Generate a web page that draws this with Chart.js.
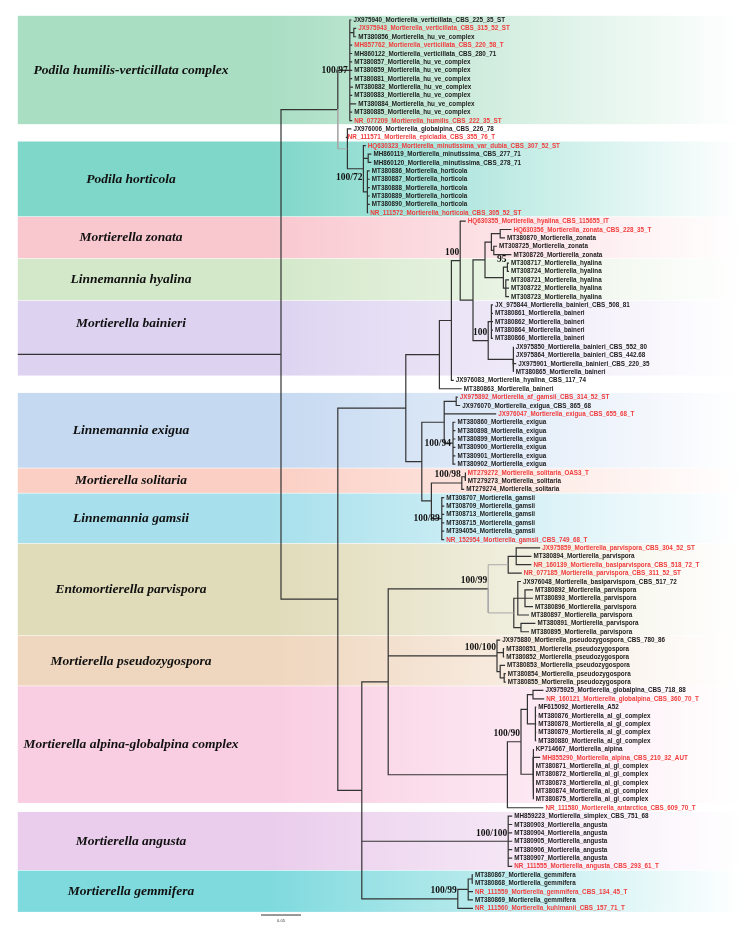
<!DOCTYPE html>
<html>
<head>
<meta charset="utf-8">
<script src="https://cdn.jsdelivr.net/npm/chart.js@4.4.1/dist/chart.umd.min.js"></script>
<style>
  html, body { margin: 0; padding: 0; background: #fff; }
  canvas { display: block; }
</style>
</head>
<body>
<canvas id="tree" width="742" height="927"></canvas>
<script>
// ── Data ─────────────────────────────────────────────────
const taxa = [
    'JX975940_Mortierella_verticillata_CBS_225_35_ST',
    'JX975943_Mortierella_verticillata_CBS_315_52_ST',
    'MT380856_Mortierella_hu_ve_complex',
    'MH857762_Mortierella_verticillata_CBS_220_58_T',
    'MH860122_Mortierella_verticillata_CBS_280_71',
    'MT380857_Mortierella_hu_ve_complex',
    'MT380859_Mortierella_hu_ve_complex',
    'MT380881_Mortierella_hu_ve_complex',
    'MT380882_Mortierella_hu_ve_complex',
    'MT380883_Mortierella_hu_ve_complex',
    'MT380884_Mortierella_hu_ve_complex',
    'MT380885_Mortierella_hu_ve_complex',
    'NR_077209_Mortierella_humilis_CBS_222_35_ST',
    'JX976006_Mortierella_globalpina_CBS_226_78',
    'NR_111571_Mortierella_epicladia_CBS_355_76_T',
    'HQ630323_Mortierella_minutissima_var_dubia_CBS_307_52_ST',
    'MH860119_Mortierella_minutissima_CBS_277_71',
    'MH860120_Mortierella_minutissima_CBS_278_71',
    'MT380886_Mortierella_horticola',
    'MT380887_Mortierella_horticola',
    'MT380888_Mortierella_horticola',
    'MT380889_Mortierella_horticola',
    'MT380890_Mortierella_horticola',
    'NR_111572_Mortierella_horticola_CBS_305_52_ST',
    'HQ630355_Mortierella_hyalina_CBS_115655_IT',
    'HQ630356_Mortierella_zonata_CBS_228_35_T',
    'MT380870_Mortierella_zonata',
    'MT308725_Mortierella_zonata',
    'MT308726_Mortierella_zonata',
    'MT308717_Mortierella_hyalina',
    'MT308724_Mortierella_hyalina',
    'MT308721_Mortierella_hyalina',
    'MT308722_Mortierella_hyalina',
    'MT308723_Mortierella_hyalina',
    'JX_975844_Mortierella_bainieri_CBS_508_81',
    'MT380861_Mortierella_baineri',
    'MT380862_Mortierella_baineri',
    'MT380864_Mortierella_baineri',
    'MT380866_Mortierella_baineri',
    'JX975850_Mortierella_bainieri_CBS_552_80',
    'JX975864_Mortierella_bainieri_CBS_442.68',
    'JX975901_Mortierella_bainieri_CBS_220_35',
    'MT380865_Mortierella_baineri',
    'JX976083_Mortierella_hyalina_CBS_117_74',
    'MT380863_Mortierella_baineri',
    'JX975892_Mortierella_af_gamsii_CBS_314_52_ST',
    'JX976070_Mortierella_exigua_CBS_865_68',
    'JX976047_Mortierella_exigua_CBS_655_68_T',
    'MT380860_Mortierella_exigua',
    'MT380898_Mortierella_exigua',
    'MT380899_Mortierella_exigua',
    'MT380900_Mortierella_exigua',
    'MT380901_Mortierella_exigua',
    'MT380902_Mortierella_exigua',
    'MT279272_Mortierella_solitaria_OAS3_T',
    'MT279273_Mortierella_solitaria',
    'MT279274_Mortierella_solitaria',
    'MT308707_Mortierella_gamsii',
    'MT308709_Mortierella_gamsii',
    'MT308713_Mortierella_gamsii',
    'MT308715_Mortierella_gamsii',
    'MT394054_Mortierella_gamsii',
    'NR_152954_Mortierella_gamsii_CBS_749_68_T',
    'JX975859_Mortierella_parvispora_CBS_304_52_ST',
    'MT380894_Mortierella_parvispora',
    'NR_160139_Mortierella_basiparvispora_CBS_518_72_T',
    'NR_077185_Mortierella_parvispora_CBS_311_52_ST',
    'JX976048_Mortierella_basiparvispora_CBS_517_72',
    'MT380892_Mortierella_parvispora',
    'MT380893_Mortierella_parvispora',
    'MT380896_Mortierella_parvispora',
    'MT380897_Mortierella_parvispora',
    'MT380891_Mortierella_parvispora',
    'MT380895_Mortierella_parvispora',
    'JX975880_Mortierella_pseudozygospora_CBS_780_86',
    'MT380851_Mortierella_pseudozygospora',
    'MT380852_Mortierella_pseudozygospora',
    'MT380853_Mortierella_pseudozygospora',
    'MT380854_Mortierella_pseudozygospora',
    'MT380855_Mortierella_pseudozygospora',
    'JX975925_Mortierella_globalpina_CBS_718_88',
    'NR_160121_Mortierella_globalpina_CBS_360_70_T',
    'MF615092_Mortierella_A52',
    'MT380876_Mortierella_al_gl_complex',
    'MT380878_Mortierella_al_gl_complex',
    'MT380879_Mortierella_al_gl_complex',
    'MT380880_Mortierella_al_gl_complex',
    'KP714667_Mortierella_alpina',
    'MH855290_Mortierella_alpina_CBS_210_32_AUT',
    'MT380871_Mortierella_al_gl_complex',
    'MT380872_Mortierella_al_gl_complex',
    'MT380873_Mortierella_al_gl_complex',
    'MT380874_Mortierella_al_gl_complex',
    'MT380875_Mortierella_al_gl_complex',
    'NR_111580_Mortierella_antarctica_CBS_609_70_T',
    'MH859223_Mortierella_simplex_CBS_751_68',
    'MT380903_Mortierella_angusta',
    'MT380904_Mortierella_angusta',
    'MT380905_Mortierella_angusta',
    'MT380906_Mortierella_angusta',
    'MT380907_Mortierella_angusta',
    'NR_111555_Mortierella_angusta_CBS_293_61_T',
    'MT380867_Mortierella_gemmifera',
    'MT380868_Mortierella_gemmifera',
    'NR_111559_Mortierella_gemmifera_CBS_134_45_T',
    'MT380869_Mortierella_gemmifera',
    'NR_111560_Mortierella_kuhlmanii_CBS_157_71_T',
];

// taxa printed in red (type material)
const typeStrains = [1, 3, 12, 14, 15, 23, 24, 25, 45, 47, 54, 62, 63, 65, 66, 81, 88, 94, 101, 104, 106];

// root-to-tip distance of every taxon (substitutions/site)
const tipDepth = [
    0.088, 0.094, 0.094, 0.089, 0.089, 0.089, 0.089, 0.089, 0.090, 0.089, 0.094, 0.089, 0.089,
    0.088, 0.081,
    0.106, 0.113, 0.113, 0.111, 0.111, 0.111, 0.111, 0.111, 0.109,
    0.231, 0.288, 0.280, 0.270, 0.288,
    0.285, 0.285, 0.285, 0.285, 0.285,
    0.265, 0.265, 0.265, 0.265, 0.265, 0.291, 0.291, 0.294, 0.291,
    0.216, 0.226,
    0.221, 0.224, 0.269, 0.218, 0.218, 0.218, 0.218, 0.218, 0.218,
    0.231, 0.231, 0.229,
    0.204, 0.204, 0.204, 0.204, 0.204, 0.204,
    0.324, 0.313, 0.313, 0.301, 0.300, 0.315, 0.315, 0.315, 0.310, 0.318, 0.310,
    0.274, 0.279, 0.279, 0.280, 0.281, 0.281,
    0.328, 0.329, 0.319, 0.319, 0.319, 0.319, 0.319,
    0.316, 0.324, 0.316, 0.316, 0.316, 0.316, 0.316,
    0.328,
    0.289, 0.289, 0.289, 0.289, 0.289, 0.289, 0.289,
    0.240, 0.240, 0.240, 0.240, 0.240,
];

const rootBranch = 0.329;
const scaleBarLength = 0.05;

// clades shaded behind the tree
const cladeNames = [
    'Podila humilis-verticillata complex', 'Podila horticola', 'Mortierella zonata',
    'Linnemannia hyalina', 'Mortierella bainieri', 'Linnemannia exigua',
    'Mortierella solitaria', 'Linnemannia gamsii', 'Entomortierella parvispora',
    'Mortierella pseudozygospora', 'Mortierella alpina-globalpina complex',
    'Mortierella angusta', 'Mortierella gemmifera',
];
const cladeFirst = [0, 15, 24, 29, 34, 45, 54, 57, 63, 74, 80, 95, 102];
const cladeLast = [12, 23, 28, 33, 42, 53, 56, 62, 73, 79, 93, 101, 106];

// internal nodes: d = depth, c = children (taxon index or node), bs = support
const tree = { d: 0, c: [
    { d: 0.071, c: [
        { d: 0.086, bs: '100/97', at: 'mid', c: [0, { d: 0.091, c: [1, 2] }, 3, 4, 5, 6, 7, 8, 9, 10, 11, 12] },
        { d: 0.083, weak: true, c: [13, 14,
            { d: 0.103, bs: '100/72', at: 'below', c: [15, { d: 0.109, c: [16, 17] }, { d: 0.108, c: [18, 19, 20, 21, 22, 23] }] },
        ] },
    ] },
    { d: 0.071, c: [
        { d: 0.156, c: [
            { d: 0.198, c: [
                { d: 0.213, c: [
                    { d: 0.224, bs: '100', c: [24,
                        { d: 0.240, c: [
                            { d: 0.255, c: [
                                { d: 0.263, c: [{ d: 0.274, c: [25, 26] }, { d: 0.266, c: [27, 28] }] },
                                { d: 0.278, c: [{ d: 0.283, bs: '95', c: [29, 30] }, { d: 0.281, c: [31, 32, 33] }] },
                            ] },
                            { d: 0.259, bs: '100', c: [{ d: 0.263, c: [34, 35, 36, 37, 38] }, { d: 0.290, c: [39, 40, 41, 42] }] },
                        ] },
                    ] },
                    43,
                ] },
                44,
            ] },
            { d: 0.176, c: [
                { d: 0.204, c: [{ d: 0.219, c: [45, 46] }, 47, { d: 0.215, bs: '100/94', at: 'mid', c: [48, 49, 50, 51, 52, 53] }] },
                { d: 0.188, c: [
                    { d: 0.226, bs: '100/98', c: [{ d: 0.230, c: [54, 55] }, 56] },
                    { d: 0.201, bs: '100/89', at: 'mid', c: [57, 58, 59, 60, 61, 62] },
                ] },
            ] },
        ] },
        { d: 0.101, c: [
            { d: 0.134, c: [
                { d: 0.259, bs: '100/99', c: [
                    { d: 0.284, weak: true, c: [{ d: 0.294, c: [63, 64, 65] }, 66] },
                    { d: 0.291, weak: true, c: [{ d: 0.296, c: [67, { d: 0.305, c: [68, 69, 70] }, 71] }, { d: 0.300, c: [72, 73] }] },
                ] },
                { d: 0.270, bs: '100/100', c: [74, { d: 0.278, c: [75, 76] }, { d: 0.274, c: [77, { d: 0.279, c: [78, 79] }] }] },
                { d: 0.283, c: [
                    { d: 0.300, bs: '100/90', c: [
                        { d: 0.308, c: [{ d: 0.315, c: [80, 81] }, { d: 0.318, c: [82, 83, 84, 85, 86] }] },
                        { d: 0.315, c: [87, 88, 89, 90, 91, 92, 93] },
                    ] },
                    94,
                ] },
            ] },
            { d: 0.284, bs: '100/100', c: [95, 96, 97, 98, 99, 100, 101] },
            { d: 0.221, bs: '100/99', c: [{ d: 0.234, c: [{ d: 0.239, c: [102, 103] }, 104, 105] }, 106] },
        ] },
    ] },
] };

// ── Styles ───────────────────────────────────────────────
const cladeColors = [
    '#a9dec3', '#7fd7c9', '#f9c8cf', '#d3e8c9', '#ddd3f1', '#c5d9f1', '#fbcfc4',
    '#a7e0ec', '#e0dbb9', '#efd6be', '#f9cde2', '#eacdec', '#7fdade',
];
const cladeLabelShift = { 'Mortierella bainieri': -1.8 };
const LINE = '#333333';
const LINE_WEAK = '#a8a8a8';
const RED = '#f03c3c';
const TEXT = '#1c1c1c';

// ── Layout (y = taxon row, nodes at midpoint of first/last child) ──
const yOf = n => typeof n === 'number' ? n : n.y;
const dOf = n => typeof n === 'number' ? tipDepth[n] : n.d;

function place(node) {
    if (typeof node === 'number') return node;
    const ys = node.c.map(place);
    node.y = (ys[0] + ys[ys.length - 1]) / 2;
    return node.y;
}
place(tree);

const strongPts = [], weakPts = [], supports = [];
const GAP = { x: null, y: null };

function walk(node) {
    if (node.bs) supports.push({ text: node.bs, d: node.d, y: node.y, at: node.at || 'above' });
    node.c.forEach(ch => {
        const isWeak = typeof ch !== 'number' && ch.weak;
        const pts = [
            { x: node.d, y: node.y },
            { x: node.d, y: yOf(ch) },
            { x: dOf(ch), y: yOf(ch) },
            GAP,
        ];
        (isWeak ? weakPts : strongPts).push(...pts);
        if (typeof ch !== 'number') walk(ch);
    });
}
strongPts.push({ x: -rootBranch, y: tree.y }, { x: tree.d, y: tree.y }, GAP);
walk(tree);

// ── Plugins ──────────────────────────────────────────────
const bandsPlugin = {
    id: 'bands',
    beforeDatasetsDraw(chart) {
        const { ctx, chartArea, scales: { x, y } } = chart;
        const left = x.getPixelForValue(-rootBranch);
        ctx.save();
        cladeNames.forEach((name, k) => {
            const top = y.getPixelForValue(cladeFirst[k] - 0.5);
            const bot = y.getPixelForValue(cladeLast[k] + 0.5);
            const g = ctx.createLinearGradient(left, 0, chartArea.right, 0);
            g.addColorStop(0, cladeColors[k]);
            g.addColorStop(0.35, cladeColors[k]);
            g.addColorStop(1, '#ffffff');
            ctx.fillStyle = g;
            ctx.fillRect(left, top, chartArea.right - left, bot - top - 0.6);
        });
        ctx.restore();
    },
};

const textPlugin = {
    id: 'treeText',
    afterDatasetsDraw(chart) {
        const { ctx, scales: { x, y } } = chart;
        ctx.save();

        // clade names
        ctx.font = 'bold italic 13.5px "Liberation Serif"';
        ctx.textAlign = 'center';
        ctx.textBaseline = 'middle';
        ctx.fillStyle = '#111';
        cladeNames.forEach((name, k) => {
            const row = (cladeFirst[k] + cladeLast[k]) / 2 + (cladeLabelShift[name] || 0);
            ctx.fillText(name, 131, y.getPixelForValue(row));
        });

        // taxon labels
        ctx.font = 'bold 6.3px "Liberation Sans"';
        ctx.textAlign = 'left';
        taxa.forEach((name, i) => {
            ctx.fillStyle = typeStrains.includes(i) ? RED : TEXT;
            ctx.fillText(name, x.getPixelForValue(tipDepth[i]) + 2, y.getPixelForValue(i) + 0.3);
        });

        // bootstrap / posterior support
        ctx.font = 'bold 9.5px "Liberation Serif"';
        ctx.textAlign = 'right';
        ctx.fillStyle = '#111';
        supports.forEach(s => {
            const px = x.getPixelForValue(s.d);
            let py = y.getPixelForValue(s.y);
            if (s.at === 'above') py -= 8;
            if (s.at === 'below') py += 9;
            ctx.fillText(s.text, px - (s.at === 'mid' ? 2 : 1), py);
        });

        // scale bar
        const sy = y.getPixelForValue(106.8);
        const sx0 = x.getPixelForValue(-scaleBarLength / 2);
        const sx1 = x.getPixelForValue(scaleBarLength / 2);
        ctx.strokeStyle = '#333';
        ctx.lineWidth = 1;
        ctx.beginPath();
        ctx.moveTo(sx0, sy);
        ctx.lineTo(sx1, sy);
        ctx.stroke();
        ctx.font = '4px "Liberation Sans"';
        ctx.textAlign = 'center';
        ctx.fillStyle = '#333';
        ctx.fillText(String(scaleBarLength), (sx0 + sx1) / 2, sy + 6);

        ctx.restore();
    },
};

// ── Chart ────────────────────────────────────────────────
new Chart(document.getElementById('tree').getContext('2d'), {
    type: 'scatter',
    data: {
        datasets: [
            {
                label: 'weak',
                data: weakPts,
                showLine: true,
                borderColor: LINE_WEAK,
                borderWidth: 1,
                pointRadius: 0,
                spanGaps: false,
                borderJoinStyle: 'miter',
            },
            {
                label: 'branches',
                data: strongPts,
                showLine: true,
                borderColor: LINE,
                borderWidth: 1.2,
                pointRadius: 0,
                spanGaps: false,
                borderJoinStyle: 'miter',
            },
        ],
    },
    options: {
        responsive: false,
        animation: false,
        events: [],
        layout: { padding: 0 },
        plugins: { legend: { display: false }, tooltip: { enabled: false } },
        scales: {
            x: { type: 'linear', display: false, min: -0.35125, max: 0.57625 },
            y: { type: 'linear', display: false, reverse: true, min: -2.387, max: 108.23 },
        },
    },
    plugins: [bandsPlugin, textPlugin],
});
</script>
</body>
</html>
